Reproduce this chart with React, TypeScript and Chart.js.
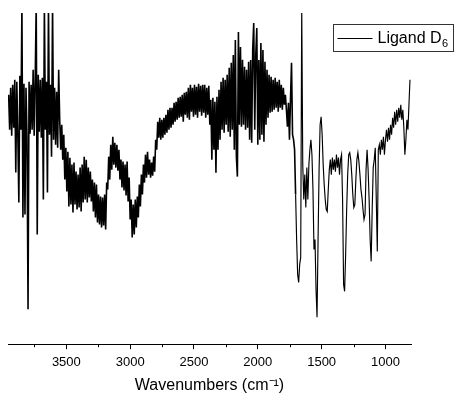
import React, { useEffect, useRef } from "react";
import { Chart, registerables } from "chart.js";

Chart.register(...registerables);

// Wavenumber grid (cm-1)
const wavenumbers = [
  3952, 3944, 3936, 3928, 3920, 3912, 3904, 3896, 3888, 3880,
  3872, 3864, 3856, 3848, 3840, 3832, 3824, 3816, 3808, 3800,
  3792, 3784, 3776, 3768, 3760, 3752, 3744, 3736, 3728, 3720,
  3712, 3704, 3696, 3688, 3680, 3672, 3664, 3656, 3648, 3640,
  3632, 3624, 3616, 3608, 3600, 3592, 3584, 3576, 3568, 3560,
  3552, 3544, 3536, 3528, 3520, 3512, 3504, 3496, 3488, 3480,
  3472, 3464, 3456, 3448, 3440, 3432, 3424, 3416, 3408, 3400,
  3392, 3384, 3376, 3368, 3360, 3352, 3344, 3336, 3328, 3320,
  3312, 3304, 3296, 3288, 3280, 3272, 3264, 3256, 3248, 3240,
  3232, 3224, 3216, 3208, 3200, 3192, 3184, 3176, 3168, 3160,
  3152, 3144, 3136, 3128, 3120, 3112, 3104, 3096, 3088, 3080,
  3072, 3064, 3056, 3048, 3040, 3032, 3024, 3016, 3008, 3000,
  2992, 2984, 2976, 2968, 2960, 2952, 2944, 2936, 2928, 2920,
  2912, 2904, 2896, 2888, 2880, 2872, 2864, 2856, 2848, 2840,
  2832, 2824, 2816, 2808, 2800, 2792, 2784, 2776, 2768, 2760,
  2752, 2744, 2736, 2728, 2720, 2712, 2704, 2696, 2688, 2680,
  2672, 2664, 2656, 2648, 2640, 2632, 2624, 2616, 2608, 2600,
  2592, 2584, 2576, 2568, 2560, 2552, 2544, 2536, 2528, 2520,
  2512, 2504, 2496, 2488, 2480, 2472, 2464, 2456, 2448, 2440,
  2432, 2424, 2416, 2408, 2400, 2392, 2384, 2376, 2368, 2360,
  2352, 2344, 2336, 2328, 2320, 2312, 2304, 2296, 2288, 2280,
  2272, 2264, 2256, 2248, 2240, 2232, 2224, 2216, 2208, 2200,
  2192, 2184, 2176, 2168, 2160, 2152, 2144, 2136, 2128, 2120,
  2112, 2104, 2096, 2088, 2080, 2072, 2064, 2056, 2048, 2040,
  2032, 2024, 2016, 2008, 2000, 1992, 1984, 1976, 1968, 1960,
  1952, 1944, 1936, 1928, 1920, 1912, 1904, 1896, 1888, 1880,
  1872, 1864, 1856, 1848, 1840, 1832, 1824, 1816, 1808, 1800,
  1792, 1784, 1776, 1768, 1760, 1752, 1744, 1736, 1728, 1720,
  1712, 1704, 1696, 1688, 1680, 1672, 1664, 1656, 1648, 1640,
  1632, 1624, 1616, 1608, 1600, 1592, 1584, 1576, 1568, 1560,
  1552, 1544, 1536, 1528, 1520, 1512, 1504, 1496, 1488, 1480,
  1472, 1464, 1456, 1448, 1440, 1432, 1424, 1416, 1408, 1400,
  1392, 1384, 1376, 1368, 1360, 1352, 1344, 1336, 1328, 1320,
  1312, 1304, 1296, 1288, 1280, 1272, 1264, 1256, 1248, 1240,
  1232, 1224, 1216, 1208, 1200, 1192, 1184, 1176, 1168, 1160,
  1152, 1144, 1136, 1128, 1120, 1112, 1104, 1096, 1088, 1080,
  1072, 1064, 1056, 1048, 1040, 1032, 1024, 1016, 1008, 1000,
  992, 984, 976, 968, 960, 952, 944, 936, 928, 920,
  912, 904, 896, 888, 880, 872, 864, 856, 848, 840,
  832, 824, 816, 808,
];

// Transmittance (arbitrary units)
const transmittance = [
  250, 215, 257, 209, 260, 217, 265, 172, 263, 210,
  142, 269, 215, 340, 127, 261, 130, 257, 207, 35,
  263, 211, 260, 215, 275, 209, 265, 340, 110, 270,
  213, 265, 207, 267, 145, 340, 215, 263, 152, 340,
  210, 260, 188, 340, 205, 257, 200, 253, 197, 275,
  225, 195, 220, 185, 210, 165, 197, 153, 193, 138,
  187, 140, 180, 132, 182, 140, 173, 135, 170, 137,
  177, 133, 180, 142, 188, 145, 185, 142, 177, 147,
  173, 143, 165, 133, 162, 127, 160, 122, 150, 120,
  148, 117, 147, 119, 150, 115, 162, 155, 188, 165,
  200, 175, 208, 180, 202, 177, 200, 174, 195, 165,
  185, 157, 183, 154, 180, 149, 183, 143, 167, 125,
  145, 107, 140, 110, 145, 117, 148, 127, 160, 138,
  170, 150, 180, 162, 190, 167, 193, 170, 185, 167,
  182, 169, 188, 173, 205, 195, 223, 207, 227, 205,
  225, 207, 227, 210, 230, 212, 235, 215, 237, 217,
  237, 220, 242, 223, 243, 225, 247, 227, 248, 228,
  250, 223, 252, 230, 253, 227, 257, 225, 260, 233,
  257, 228, 260, 230, 258, 227, 261, 233, 259, 229,
  260, 232, 260, 227, 257, 230, 259, 220, 245, 185,
  247, 195, 243, 172, 248, 195, 255, 205, 263, 215,
  267, 212, 265, 220, 270, 213, 277, 208, 282, 215,
  290, 195, 305, 188, 168, 313, 220, 298, 218, 285,
  220, 278, 215, 275, 217, 283, 205, 285, 202, 295,
  322, 215, 290, 317, 200, 285, 205, 302, 210, 295,
  203, 283, 220, 275, 227, 270, 232, 268, 233, 265,
  235, 267, 237, 263, 233, 265, 237, 260, 235, 257,
  240, 250, 235, 218, 242, 205, 245, 282, 210, 205,
  195, 150, 105, 70, 62, 80, 87, 340, 180, 145,
  170, 137, 177, 145, 180, 195, 205, 190, 155, 95,
  105, 55, 27, 105, 175, 220, 228, 210, 180, 160,
  145, 135, 133, 155, 175, 185, 170, 187, 175, 185,
  173, 190, 177, 187, 170, 185, 190, 145, 60, 53,
  90, 135, 170, 190, 192, 185, 170, 150, 137, 140,
  165, 185, 192, 183, 170, 155, 147, 135, 125, 130,
  175, 195, 175, 145, 105, 83, 135, 177, 185, 197,
  145, 93, 195, 200, 190, 205, 195, 208, 190, 205,
  215, 203, 217, 205, 220, 210, 227, 217, 233, 220,
  235, 223, 237, 227, 240, 225, 235, 217, 190, 205,
  225, 215, 240, 265,
];

const majorTicks = [3500, 3000, 2500, 2000, 1500, 1000];
const minorTicks = [3750, 3250, 2750, 2250, 1750, 1250];
const xRange = [800, 3957];
const yRange = [0, 332];
const noisyAbove = 1700; // region of the spectrum drawn with the heavier trace
const seriesName = "Ligand D";
const seriesSub = "6";
const xTitle = "Wavenumbers (cm\u207B\u00B9)";

const FONT = "'Liberation Sans', Arial, Helvetica, sans-serif";

const minorTickPlugin = {
  id: "minorTicks",
  afterDraw(chart: any) {
    const sx = chart.scales.x;
    const ctx = chart.ctx;
    ctx.save();
    ctx.strokeStyle = "#000";
    ctx.lineWidth = 1;
    minorTicks.forEach((v) => {
      const px = Math.round(sx.getPixelForValue(v)) + 0.5;
      ctx.beginPath();
      ctx.moveTo(px, sx.top);
      ctx.lineTo(px, sx.top + 3);
      ctx.stroke();
    });
    ctx.restore();
  },
};

const boxedLegendPlugin = {
  id: "boxedLegend",
  afterDraw(chart: any) {
    const ctx = chart.ctx;
    const ds = chart.data.datasets[0];
    const left = 333.5, top = 24.5, w = 120, h = 27;
    ctx.save();
    ctx.fillStyle = "#fff";
    ctx.fillRect(left, top, w, h);
    ctx.strokeStyle = "#333";
    ctx.lineWidth = 1;
    ctx.strokeRect(left, top, w, h);
    const cy = top + h / 2;
    ctx.strokeStyle = ds.borderColor;
    ctx.beginPath();
    ctx.moveTo(left + 4, Math.round(cy) + 0.5);
    ctx.lineTo(left + 39, Math.round(cy) + 0.5);
    ctx.stroke();
    ctx.fillStyle = "#000";
    ctx.textBaseline = "middle";
    ctx.textAlign = "left";
    ctx.font = `16px ${FONT}`;
    ctx.fillText(seriesName, left + 44, cy + 1);
    const tw = ctx.measureText(seriesName).width;
    ctx.font = `11px ${FONT}`;
    ctx.fillText(seriesSub, left + 44 + tw + 0.5, cy + 6);
    ctx.restore();
  },
};

export default function App() {
  const ref = useRef<HTMLCanvasElement | null>(null);

  useEffect(() => {
    if (!ref.current) return;
    const chart = new Chart(ref.current, {
      type: "line",
      data: {
        datasets: [
          {
            label: seriesName + "\u2086",
            data: wavenumbers.map((w, i) => ({ x: w, y: transmittance[i] })),
            borderColor: "#000",
            borderWidth: 1.6,
            borderJoinStyle: "miter",
            pointRadius: 0,
            tension: 0,
            fill: false,
            segment: {
              borderWidth: (c: any) => (c.p1.parsed.x > noisyAbove ? 1.6 : 1.15),
            },
          },
        ],
      },
      options: {
        animation: false,
        responsive: false,
        devicePixelRatio: 1,
        parsing: false,
        normalized: true,
        layout: { padding: { left: 8, right: 45, top: 13, bottom: 6 } },
        plugins: {
          legend: { display: false },
          tooltip: { enabled: false },
        },
        scales: {
          x: {
            type: "linear",
            reverse: true,
            min: xRange[0],
            max: xRange[1],
            afterBuildTicks: (axis: any) => {
              axis.ticks = majorTicks.map((v) => ({ value: v }));
            },
            ticks: {
              color: "#000",
              font: { family: FONT, size: 13 },
              padding: 5.5,
              maxRotation: 0,
              autoSkip: false,
              callback: (v: any) => String(v),
            },
            grid: {
              display: true,
              drawOnChartArea: false,
              drawTicks: true,
              tickLength: 5,
              color: "#000",
              lineWidth: 1,
            },
            border: { display: true, color: "#000", width: 1 },
            title: {
              display: true,
              text: xTitle,
              color: "#000",
              font: { family: FONT, size: 16 },
              padding: { top: 0, bottom: 0 },
            },
          },
          y: {
            type: "linear",
            display: false,
            min: yRange[0],
            max: yRange[1],
          },
        },
      },
      plugins: [minorTickPlugin, boxedLegendPlugin],
    });
    return () => chart.destroy();
  }, []);

  return (
    <canvas
      ref={ref}
      width={456}
      height={401}
      style={{ position: "fixed", left: 0, top: 0, width: 456, height: 401 }}
    />
  );
}
